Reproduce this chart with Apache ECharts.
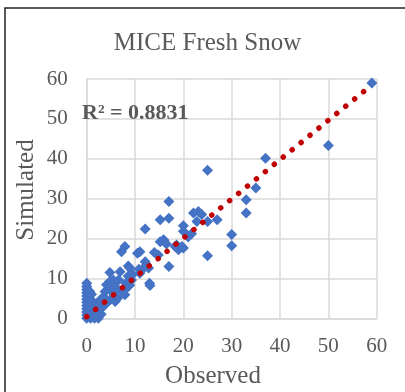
<!DOCTYPE html>
<html>
<head>
<meta charset="utf-8">
<script src="https://cdn.jsdelivr.net/npm/echarts@6/dist/echarts.min.js"></script>
<style>html,body{margin:0;padding:0;background:#fff}#c{width:405px;height:392px}</style>
</head>
<body>
<div id="c"></div>
<script>
var titleText = "MICE Fresh Snow";
var xTitle = "Observed";
var yTitle = "Simulated";
var r2Text = "R² = 0.8831";
var tickValues = [0, 10, 20, 30, 40, 50, 60];

var observed = [59,50,37,35,33,33,30,30,25,25,27,25,23.1,22.1,23.8,22.8,20,20,21.7,21,17,17,15.2,12.1,15.9,15.2,16.5,19.7,19,18.3,18.6,20,14.8,17,7.9,7.2,11,10.5,8.6,8.9,6.9,4.8,12.1,12.4,12.8,11.8,11,13,13.1,10.8,8.6,9.3,8.1,8.9,7.9,7.2,5.9,4.8,3.8,4.8,4.1,6.6,5.5,7.9,6.4,5.9,3.5,2.8,2.1,1.4,1.4,0.7,2.1,3.1,4.1,4.8,0,0,0,0,0,0,0,0,0,0,0,0,0.5,0.6,0.5,0.6,1,1,0.8,1.6,2.4,1.5,3,16,14,9.5,6,2.5,1.8];
var simulated = [59,43.3,40.1,32.7,29.7,26.4,21,18.2,15.7,37.1,24.7,24.3,26.8,26.4,26,24.3,23.2,21.8,21.2,20.4,29.3,25.1,24.7,22.4,19.7,19.2,18.6,18,17.2,18,18.4,17.6,15.9,13,18,16.7,16.7,16.3,13.1,12.6,11.7,11.5,14.2,13.4,12.6,12.6,11.3,8.8,8.2,12.3,10.6,9.6,8.8,8.3,7.1,6.7,7.9,7.1,6.7,9.2,8.4,9.6,9.6,5.9,5,4.2,5.4,4.6,3.8,3.4,2.1,1.3,1.7,2.5,3.8,4.6,0,0.8,1.6,2.4,3.2,4,4.8,5.6,6.4,7.2,8,8.8,1,3,5,6.8,4.5,6,0,0,0,0.5,1,19.5,16.5,11,7,3,1];
var trendX = [0, 58.5];
var trendY = [0.4, 58.0];

var chart = echarts.init(document.getElementById('c'), null, {renderer: 'canvas'});
var txt = '#595959';
var font = '"Liberation Serif", "Times New Roman", serif';
var pts = observed.map(function (x, i) { return [x, simulated[i]]; });
var trend = trendX.map(function (x, i) { return [x, trendY[i]]; });
var axisCommon = {
  type: 'value', min: tickValues[0], max: tickValues[tickValues.length - 1], interval: 10,
  axisLine: {show: true, lineStyle: {color: '#d9d9d9', width: 1.5}},
  axisTick: {show: false},
  splitLine: {show: true, lineStyle: {color: '#d9d9d9', width: 1.5}},
  axisLabel: {color: txt, fontFamily: font, fontSize: 21}
};
chart.setOption({
  animation: false,
  backgroundColor: '#fff',
  grid: {left: 86.7, right: 28.3, top: 79, bottom: 73.7},
  xAxis: Object.assign({}, axisCommon, {axisLabel: Object.assign({}, axisCommon.axisLabel, {margin: 18})}),
  yAxis: Object.assign({}, axisCommon, {axisLabel: Object.assign({}, axisCommon.axisLabel, {margin: 19})}),
  series: [
    {type: 'scatter', data: pts, symbol: 'diamond', symbolSize: 11,
     itemStyle: {color: '#4472C4', opacity: 1}, z: 2},
    {type: 'line', data: trend, symbol: 'none', z: 3,
     lineStyle: {color: '#C00000', width: 5.5, type: [0.01, 11.5], cap: 'round'}}
  ],
  graphic: [
    {type: 'rect', shape: {x: 5, y: 8, width: 500, height: 500}, style: {fill: null, stroke: '#222', lineWidth: 1.5}, z: 100},
    {type: 'text', x: 207.5, y: 43, style: {text: titleText, font: '25px ' + font, fill: txt, align: 'center', verticalAlign: 'middle'}},
    {type: 'text', x: 213, y: 376, style: {text: xTitle, font: '25px ' + font, fill: txt, align: 'center', verticalAlign: 'middle'}},
    {type: 'text', x: 26, y: 190, rotation: Math.PI / 2, style: {text: yTitle, font: '25px ' + font, fill: txt, align: 'center', verticalAlign: 'middle'}},
    {type: 'text', x: 82, y: 113, z: 50, style: {text: r2Text, font: 'bold 22px ' + font, fill: txt, align: 'left', verticalAlign: 'middle'}}
  ]
});
</script>
</body>
</html>
